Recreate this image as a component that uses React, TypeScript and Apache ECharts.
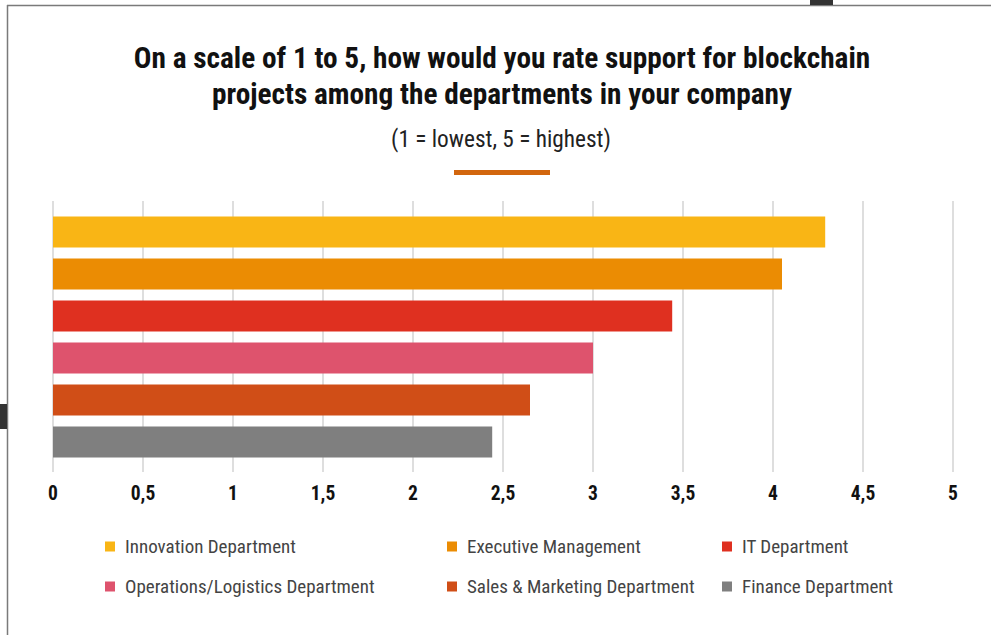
import React, { useEffect, useRef } from "react";
import * as echarts from "echarts";

const categories = [
  "Innovation Department",
  "Executive Management",
  "IT Department",
  "Operations/Logistics Department",
  "Sales & Marketing Department",
  "Finance Department",
];
const values = [4.29, 4.05, 3.44, 3.0, 2.65, 2.44];
const colors = ["#F9B515", "#EB8C03", "#DF3020", "#DE536D", "#D04E17", "#7F7F7F"];
const legendPositions = [
  [105, 537],
  [447, 537],
  [722, 537],
  [105, 577],
  [447, 577],
  [722, 577],
];

const FONT = '"Liberation Sans Narrow", "Roboto Condensed", "DejaVu Sans Condensed", "Arial Narrow", sans-serif';

export default function App() {
  const ref = useRef<HTMLDivElement>(null);
  useEffect(() => {
    document.body.style.margin = "0";
    const chart = echarts.init(ref.current!, null, { renderer: "svg" });
    const series = categories.map((name, i) => ({
      name,
      type: "bar",
      xAxisIndex: 0,
      yAxisIndex: 0,
      stack: "all",
      barWidth: 31,
      itemStyle: { color: colors[i] },
      data: categories.map((_, j) => (j === i ? values[i] : "-")),
    }));
    chart.setOption({
      animation: false,
      backgroundColor: "#ffffff",
      title: [
        {
          text: "On a scale of 1 to 5, how would you rate support for blockchain\nprojects among the departments in your company",
          left: 497,
          top: 35,
          textAlign: "center",
          textStyle: { fontFamily: FONT, fontWeight: "bold", fontSize: 29.3, lineHeight: 36, color: "#111" },
        },
        {
          text: "(1 = lowest, 5 = highest)",
          left: 496,
          top: 121,
          textAlign: "center",
          textStyle: { fontFamily: FONT, fontWeight: "normal", fontSize: 23.3, lineHeight: 26, color: "#222" },
        },
      ],
      legend: categories.map((name, i) => ({
        data: [name],
        left: legendPositions[i][0],
        top: legendPositions[i][1],
        icon: "rect",
        itemWidth: 10,
        itemHeight: 10,
        padding: 0,
        selectedMode: false,
        textStyle: { fontFamily: FONT, fontSize: 19, color: "#444", padding: [0, 0, 0, 5] },
      })),
      grid: [
        { left: 53, right: 38, top: 211, height: 252 },
        { left: 53, right: 38, top: 201, height: 271 },
      ],
      xAxis: [
        { type: "value", gridIndex: 0, min: 0, max: 5, interval: 0.5, show: false },
        {
          type: "value",
          gridIndex: 1,
          min: 0,
          max: 5,
          interval: 0.5,
          axisLine: { show: false },
          axisTick: { show: false },
          splitLine: { show: true, lineStyle: { color: "#dedede", width: 2 } },
          axisLabel: {
            margin: 11,
            fontFamily: FONT,
            fontWeight: "bold",
            fontSize: 19.5,
            color: "#111",
            formatter: (v: number) => String(v).replace(".", ","),
          },
        },
      ],
      yAxis: [
        { type: "category", gridIndex: 0, data: categories, inverse: true, show: false },
        { type: "value", gridIndex: 1, min: 0, max: 1, show: false },
      ],
      series,
      graphic: [
        { type: "rect", shape: { x: 454, y: 170, width: 96, height: 5 }, style: { fill: "#D2660E" }, z: 10 },
        { type: "line", shape: { x1: 7, y1: 5.5, x2: 991, y2: 5.5 }, style: { stroke: "#7a7a7a", lineWidth: 1.5 }, z: 10 },
        { type: "line", shape: { x1: 7.5, y1: 5, x2: 7.5, y2: 635 }, style: { stroke: "#7a7a7a", lineWidth: 1.5 }, z: 10 },
        { type: "rect", shape: { x: 810, y: 0, width: 23, height: 5 }, style: { fill: "#333" }, z: 10 },
        { type: "rect", shape: { x: 0, y: 404, width: 7, height: 25 }, style: { fill: "#333" }, z: 10 },
      ],
    });
    return () => chart.dispose();
  }, []);
  return <div ref={ref} style={{ width: 991, height: 635 }} />;
}
